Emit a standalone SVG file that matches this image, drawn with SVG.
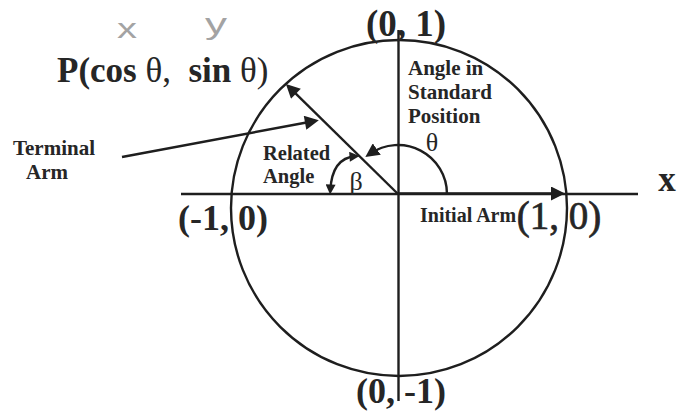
<svg xmlns="http://www.w3.org/2000/svg" width="677" height="412" viewBox="0 0 677 412">
<style>
  .ln{fill:none;stroke:#1e1e1e;stroke-width:2.4}
  .b{font-family:"Liberation Serif","Times New Roman",serif;font-weight:bold;fill:#262626}
  .r{font-family:"Liberation Serif","Times New Roman",serif;font-weight:normal;fill:#262626}
  .hand{font-family:"Liberation Sans",Arial,sans-serif;fill:#a3a3a3}
</style>
<defs>
  <marker id="ahL" viewBox="0 0 10 10" refX="6" refY="5" markerUnits="userSpaceOnUse" markerWidth="17" markerHeight="14" orient="auto-start-reverse">
    <path d="M0,0 L10,5 L0,10 z" fill="#1e1e1e"/>
  </marker>
  <marker id="ahM" viewBox="0 0 10 10" refX="6" refY="5" markerUnits="userSpaceOnUse" markerWidth="14" markerHeight="14" orient="auto-start-reverse">
    <path d="M0,0 L10,5 L0,10 z" fill="#1e1e1e"/>
  </marker>
  <marker id="ahS" viewBox="0 0 10 10" refX="6" refY="5" markerUnits="userSpaceOnUse" markerWidth="11" markerHeight="10" orient="auto-start-reverse">
    <path d="M0,0 L10,5 L0,10 z" fill="#1e1e1e"/>
  </marker>
</defs>
<rect width="677" height="412" fill="#ffffff"/>

<g id="connectors">
  <circle id="unit-circle" class="ln" cx="399" cy="208" r="168" stroke-width="2.2"/>
  <line id="x-axis" class="ln" x1="181" y1="194" x2="638" y2="194" stroke-width="2.4"/>
  <line id="y-axis" class="ln" x1="398.5" y1="30" x2="398.5" y2="401" stroke-width="2.2"/>
  <line id="initial-arm" class="ln" x1="398" y1="193.5" x2="559.4" y2="193.5" stroke-width="3.6" marker-end="url(#ahM)"/>
  <line id="terminal-arm" class="ln" x1="398" y1="194" x2="289.9" y2="87.8" stroke-width="2.6" marker-end="url(#ahL)"/>
  <line id="terminal-pointer" class="ln" x1="122" y1="157" x2="313.3" y2="121.2" stroke-width="2.6" marker-end="url(#ahL)"/>
  <path id="theta-arc" class="ln" d="M447,194 A49,49 0 0 0 369.9,153.9" stroke-width="2" marker-end="url(#ahM)"/>
  <path id="beta-arc" class="ln" d="M330.3,190.5 Q332,158 355.5,156.3" stroke-width="2" marker-start="url(#ahS)" marker-end="url(#ahS)"/>
</g>

<g id="hand-x"><text class="hand" x="127" y="38" font-size="27" text-anchor="middle" textLength="20" lengthAdjust="spacingAndGlyphs">x</text></g>
<g id="hand-y"><text class="hand" x="216" y="34" font-size="30" text-anchor="middle" textLength="22" lengthAdjust="spacingAndGlyphs">y</text></g>

<g id="point-P"><text x="57" y="82" font-size="35" class="b" xml:space="preserve">P(cos<tspan class="r"> θ,</tspan>  sin<tspan class="r"> θ)</tspan></text></g>

<g id="label-0-1"><text class="b" x="406" y="36" font-size="37" text-anchor="middle">(0, 1)</text></g>
<g id="label-m1-0"><text class="b" x="223" y="230" font-size="36" text-anchor="middle">(-1, 0)</text></g>
<g id="label-1-0"><text class="r" x="559" y="229" font-size="39" text-anchor="middle" stroke="#262626" stroke-width="0.7">(1, 0)</text></g>
<g id="label-0-m1"><text class="b" x="401" y="403" font-size="36" text-anchor="middle">(0, -1)</text></g>
<g id="label-x"><text class="b" x="667" y="191" font-size="35" text-anchor="middle">x</text></g>

<g id="terminal-arm-label">
  <text class="b" x="54" y="155" font-size="21" text-anchor="middle">Terminal</text>
  <text class="b" x="47" y="179" font-size="21" text-anchor="middle">Arm</text>
</g>
<g id="related-angle-label">
  <text class="b" x="263" y="160" font-size="20.5">Related</text>
  <text class="b" x="263" y="183" font-size="20.5">Angle</text>
</g>
<g id="standard-position-label">
  <text class="b" x="408" y="75" font-size="21">Angle in</text>
  <text class="b" x="408" y="99" font-size="21">Standard</text>
  <text class="b" x="408" y="123" font-size="21">Position</text>
</g>
<g id="initial-arm-label"><text class="b" x="420" y="222" font-size="20">Initial Arm</text></g>
<g id="theta-label"><text class="r" x="432" y="151" font-size="26" text-anchor="middle">θ</text></g>
<g id="beta-label"><text class="r" x="356" y="190" font-size="26" text-anchor="middle">β</text></g>
</svg>
